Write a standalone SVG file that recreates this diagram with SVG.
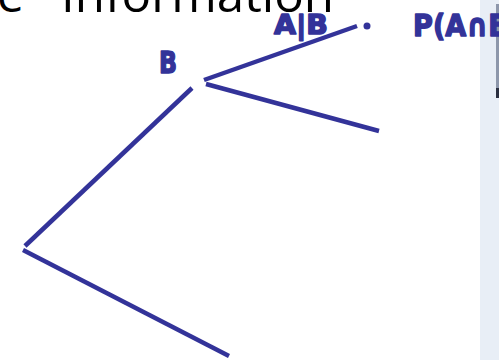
<svg xmlns="http://www.w3.org/2000/svg" width="499" height="360" viewBox="0 0 499 360">
<style>
.ink{stroke:#333399;stroke-width:4.5;fill:none;stroke-linecap:butt}
.hw{fill:#333399;stroke:#333399;stroke-width:1.5;stroke-linejoin:round;font-family:"DejaVu Sans",sans-serif;font-weight:bold}
.title{fill:#000;font-family:"Open Sans","Liberation Sans",sans-serif;font-size:48px}
</style>
<rect width="499" height="360" fill="#ffffff"/>
<rect id="side-panel" x="480" y="0" width="19" height="360" fill="#e8eef6"/>
<g id="thumbnail">
<rect x="496" y="4" width="3" height="92" fill="#8d97ab"/>
<rect x="496" y="88" width="3" height="10" fill="#2a2f40"/>
</g>
<text class="title" x="-3" y="12">e <tspan x="61" textLength="273" lengthAdjust="spacingAndGlyphs">Information</tspan></text>
<g id="connectors">
<line class="ink" x1="204" y1="80" x2="357" y2="26"/>
<line class="ink" x1="206" y1="84" x2="379" y2="131"/>
<line class="ink" x1="192" y1="88" x2="25" y2="246"/>
<line class="ink" x1="23" y1="250" x2="229" y2="356"/>
</g>
<g id="node-B">
<text class="hw" x="159" y="73" font-size="30" textLength="18" lengthAdjust="spacingAndGlyphs">B</text>
</g>
<g id="node-AgivenB">
<text class="hw" x="274" y="34" font-size="26" textLength="54" lengthAdjust="spacingAndGlyphs">A|B</text>
<circle cx="367" cy="26" r="3.5" fill="#333399"/>
</g>
<g id="node-PAandB">
<text class="hw" x="413" y="36" font-size="31" textLength="96" lengthAdjust="spacingAndGlyphs">P(A∩B</text>
</g>
</svg>
